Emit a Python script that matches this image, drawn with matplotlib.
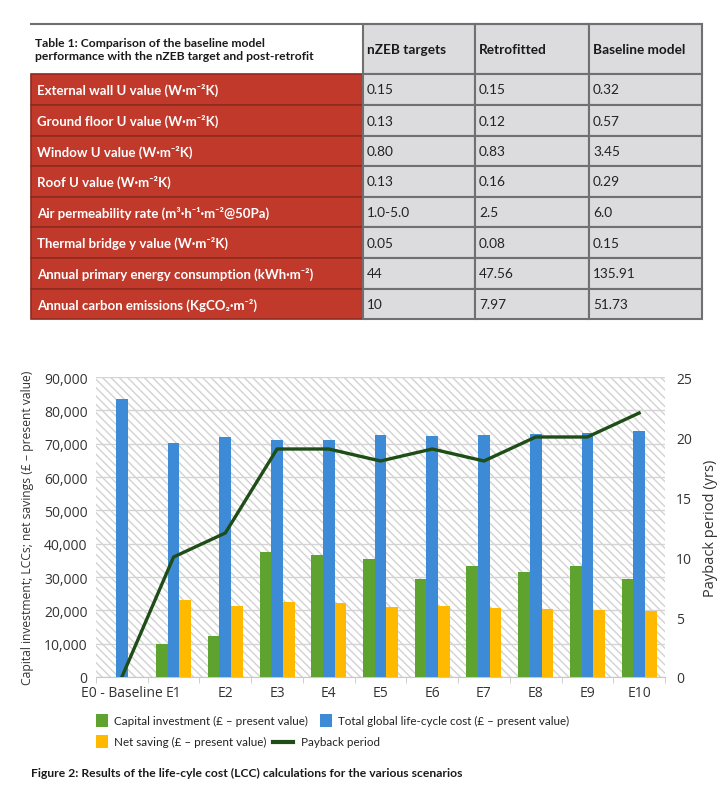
import matplotlib
matplotlib.use('Agg')
import numpy as np
import matplotlib.pyplot as plt
from matplotlib.patches import Rectangle

plt.rcParams['font.family'] = ['Open Sans', 'DejaVu Sans']

# ---- Table 1 data ----
table_title = 'Table 1: Comparison of the baseline model\nperformance with the nZEB target and post-retrofit'
col_headers = ['nZEB targets', 'Retrofitted', 'Baseline model']
row_labels = [
    'External wall U value (W·m⁻²K)',
    'Ground floor U value (W·m⁻²K)',
    'Window U value (W·m⁻²K)',
    'Roof U value (W·m⁻²K)',
    'Air permeability rate (m³·h⁻¹·m⁻²@50Pa)',
    'Thermal bridge y value (W·m⁻²K)',
    'Annual primary energy consumption (kWh·m⁻²)',
    'Annual carbon emissions (KgCO₂·m⁻²)',
]
nzeb = ['0.15', '0.13', '0.80', '0.13', '1.0-5.0', '0.05', '44', '10']
retrofitted = ['0.15', '0.12', '0.83', '0.16', '2.5', '0.08', '47.56', '7.97']
baseline = ['0.32', '0.57', '3.45', '0.29', '6.0', '0.15', '135.91', '51.73']

# ---- Figure 2 data ----
scenarios = ['E0 - Baseline', 'E1', 'E2', 'E3', 'E4', 'E5', 'E6', 'E7', 'E8', 'E9', 'E10']
capital = [0, 9800, 12300, 37600, 36600, 35400, 29400, 33300, 31600, 33400, 29500]
total_lcc = [83500, 70300, 72100, 71000, 71200, 72500, 72400, 72700, 73000, 73300, 73700]
net_saving = [0, 23000, 21200, 22400, 22300, 20900, 21200, 20800, 20500, 20200, 19900]
payback = [0, 10, 12, 19, 19, 18, 19, 18, 20, 20, 22]
caption = 'Figure 2: Results of the life-cyle cost (LCC) calculations for the various scenarios'

RED = '#c0392b'
GREY = '#dcdcde'
GREEN = '#5ea32f'
BLUE = '#3d8bd6'
ORANGE = '#ffba00'
DKGREEN = '#1f4d17'
COND = ['Lato', 'DejaVu Sans']

fig = plt.figure(figsize=(7.28, 8.12), dpi=100)

# overlay in pixel coords for the table, legend and caption
ov = fig.add_axes([0, 0, 1, 1])
ov.set_xlim(0, 728)
ov.set_ylim(812, 0)
ov.axis('off')

col_edges = [31, 363, 475, 589, 702]
row_edges = [25, 75, 106, 137, 167, 198, 228, 259, 290, 320]

# header
ov.add_patch(Rectangle((col_edges[0], row_edges[0]), col_edges[1] - col_edges[0],
                       row_edges[1] - row_edges[0], facecolor='white', edgecolor='none'))
ov.text(col_edges[0] + 4, (row_edges[0] + row_edges[1]) / 2, table_title, family=COND,
        fontsize=8.75, fontweight='bold', color='#1a1a1a', va='center', ha='left', linespacing=1.15)
for j, h in enumerate(col_headers):
    x0, x1 = col_edges[j + 1], col_edges[j + 2]
    ov.add_patch(Rectangle((x0, row_edges[0]), x1 - x0, row_edges[1] - row_edges[0],
                           facecolor=GREY, edgecolor='#707070', lw=1.5))
    ov.text(x0 + 4, (row_edges[0] + row_edges[1]) / 2, h, family=COND, fontsize=9.8,
            fontweight='bold', color='#1a1a1a', va='center', ha='left')

cols = [nzeb, retrofitted, baseline]
for i, lab in enumerate(row_labels):
    y0, y1 = row_edges[i + 1], row_edges[i + 2]
    ov.add_patch(Rectangle((col_edges[0], y0), col_edges[1] - col_edges[0], y1 - y0,
                           facecolor=RED, edgecolor='#8f2a1f', lw=1.2))
    ov.text(col_edges[0] + 6, (y0 + y1) / 2, lab, family=COND, fontsize=9.5,
            fontweight='bold', color='white', va='center', ha='left')
    for j, c in enumerate(cols):
        x0, x1 = col_edges[j + 1], col_edges[j + 2]
        ov.add_patch(Rectangle((x0, y0), x1 - x0, y1 - y0,
                               facecolor=GREY, edgecolor='#707070', lw=1.5))
        ov.text(x0 + 4, (y0 + y1) / 2, c[i], family=COND, fontsize=9.8,
                color='#222222', va='center', ha='left')
ov.plot([col_edges[0], col_edges[-1]], [row_edges[0], row_edges[0]], color='#707070', lw=1.5)

# ---- chart ----
ax = fig.add_axes([96 / 728, (812 - 678) / 812, (665 - 96) / 728, 300 / 812])
x = np.arange(len(scenarios))
w = 0.225

ax.add_patch(Rectangle((0, 0), 1, 1, transform=ax.transAxes, facecolor='white',
                       edgecolor='#d2d2d2', hatch='\\\\\\\\', lw=0, zorder=0))
ax.bar(x - w, capital, w, color=GREEN, zorder=3)
ax.bar(x, total_lcc, w, color=BLUE, zorder=3)
ax.bar(x + w, net_saving, w, color=ORANGE, zorder=3)

ax.set_xlim(-0.5, len(scenarios) - 0.5)
ax.set_ylim(0, 90000)
ax.set_yticks(np.arange(0, 90001, 10000))
ax.set_yticklabels(['{:,}'.format(v) for v in range(0, 90001, 10000)])
ax.yaxis.grid(True, color='#d4d4d4', lw=1, zorder=1)
ax.set_axisbelow(False)
ax.set_xticks(x)
ax.set_xticklabels(scenarios)
ax.set_xticks(np.arange(-0.5, len(scenarios), 1), minor=True)
ax.tick_params(axis='x', which='major', length=0, pad=6, labelsize=10, labelcolor='#333333')
ax.tick_params(axis='x', which='minor', length=4, color='#c8c8c8')
ax.tick_params(axis='y', length=0, labelsize=10, labelcolor='#333333', pad=6)
for s in ['top', 'left', 'right']:
    ax.spines[s].set_visible(False)
ax.spines['bottom'].set_color('#c8c8c8')
ax.set_ylabel('Capital investment; LCCs; net savings (£ – present value)', fontsize=8.7,
              color='#333333', labelpad=7)

ax2 = ax.twinx()
ax2.plot(x, payback, color=DKGREEN, lw=2.4, zorder=5)
ax2.set_ylim(0, 25)
ax2.set_yticks(np.arange(0, 26, 5))
ax2.tick_params(axis='y', length=0, labelsize=10, labelcolor='#333333', pad=8)
for s in ['top', 'left', 'right', 'bottom']:
    ax2.spines[s].set_visible(False)
ax2.set_ylabel('Payback period (yrs)', fontsize=10.5, color='#333333', labelpad=8)

# legend (drawn by hand to mimic the flowing layout)
LEG_FS = 8.4
leg_row1 = [(96, GREEN, 'Capital investment (£ – present value)'),
            (320, BLUE, 'Total global life-cycle cost (£ – present value)')]
for lx, col, txt in leg_row1:
    ov.add_patch(Rectangle((lx, 715), 12, 13, facecolor=col, edgecolor='none'))
    ov.text(lx + 18, 721.5, txt, family=COND, fontsize=LEG_FS, color='#222222',
            va='center', ha='left')
ov.add_patch(Rectangle((96, 736), 12, 13, facecolor=ORANGE, edgecolor='none'))
ov.text(114, 742.5, 'Net saving (£ – present value)', family=COND, fontsize=LEG_FS,
        color='#222222', va='center', ha='left')
ov.plot([273, 293], [743, 743], color=DKGREEN, lw=3)
ov.text(301, 742.5, 'Payback period', family=COND, fontsize=LEG_FS, color='#222222',
        va='center', ha='left')

ov.text(31, 773, caption, family=COND, fontsize=8.75, fontweight='bold', color='#1a1a1a',
        va='center', ha='left')

fig.savefig('out.png', dpi=100)
